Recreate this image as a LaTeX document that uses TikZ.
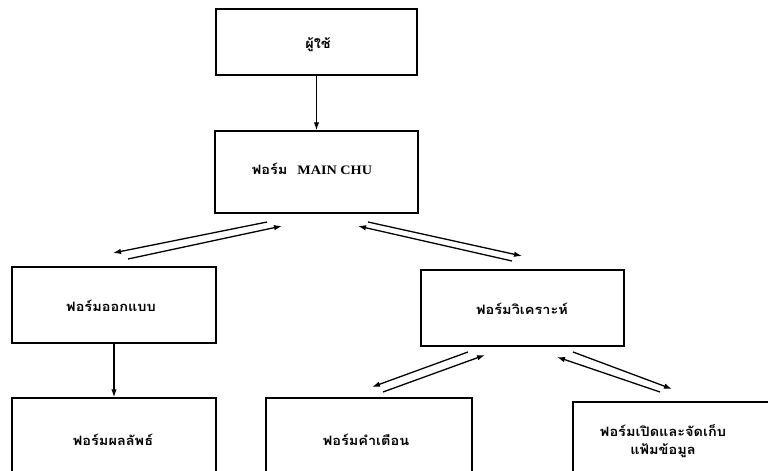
\documentclass[tikz,border=0pt]{standalone}
\usepackage{fontspec}
\newfontfamily\thai[Script=Thai,FakeStretch=1.12]{Loma}
\newfontfamily\latinf[FakeStretch=1.1]{Liberation Serif}
\usetikzlibrary{arrows.meta}
\begin{document}
\begin{tikzpicture}[x=1bp,y=-1bp,
  box/.style={draw, line width=1.4bp, rectangle, inner sep=0pt},
  lbl/.style={font=\thai\bfseries\fontsize{13}{18}\selectfont, align=center, inner sep=0pt},
  arr/.style={line width=1.3bp, -{Latex[length=8bp,width=5.5bp]}}]
\useasboundingbox (0,0) rectangle (768,471);
\fill[white] (0,0) rectangle (768,471);
\clip (0,0) rectangle (768,471);
% boxes
\node[box, minimum width=201bp, minimum height=66bp] (user) at (316.5,42) {};
\node[lbl] (usert) at (318,45) {ผู้ใช้};
\node[box, minimum width=203bp, minimum height=82bp] (main) at (316.5,172) {};
\node[lbl] (maint) at (312,169) {ฟอร์ม\ \ {\latinf\bfseries MAIN CHU}};
\node[box, minimum width=204bp, minimum height=76bp] (design) at (114,305) {};
\node[lbl] (designt) at (111,306) {ฟอร์มออกแบบ};
\node[box, minimum width=203bp, minimum height=76bp] (analyze) at (522.5,308) {};
\node[lbl] (analyzet) at (522,309) {ฟอร์มวิเคราะห์};
\node[box, minimum width=204bp, minimum height=84bp] (result) at (114,440) {};
\node[lbl] (resultt) at (113,440) {ฟอร์มผลลัพธ์};
\node[box, minimum width=206bp, minimum height=84bp] (warn) at (369,440) {};
\node[lbl] (warnt) at (366,440) {ฟอร์มคำเตือน};
\node[box, minimum width=207bp, minimum height=78bp] (file) at (676.5,441) {};
\node[lbl] (filet) at (663,441) {ฟอร์มเปิดและจัดเก็บ\\แฟ้มข้อมูล};
% vertical arrows
\draw[arr] (user) -- (main);
\draw[arr] (design) -- (result);
% floating double arrows
\coordinate (d1s) at (267,222); \coordinate (d1e) at (113,253);
\coordinate (d2s) at (128,259); \coordinate (d2e) at (282,226);
\coordinate (a1s) at (368,222); \coordinate (a1e) at (522,256);
\coordinate (a2s) at (512,261); \coordinate (a2e) at (358,226);
\coordinate (w1s) at (468,352); \coordinate (w1e) at (372,387);
\coordinate (w2s) at (383,392); \coordinate (w2e) at (485,355);
\coordinate (f1s) at (573,352); \coordinate (f1e) at (672,389);
\coordinate (f2s) at (660,392); \coordinate (f2e) at (557,357);
\draw[arr] (d1s) -- (d1e);
\draw[arr] (d2s) -- (d2e);
\draw[arr] (a1s) -- (a1e);
\draw[arr] (a2s) -- (a2e);
\draw[arr] (w1s) -- (w1e);
\draw[arr] (w2s) -- (w2e);
\draw[arr] (f1s) -- (f1e);
\draw[arr] (f2s) -- (f2e);
\end{tikzpicture}
\end{document}
